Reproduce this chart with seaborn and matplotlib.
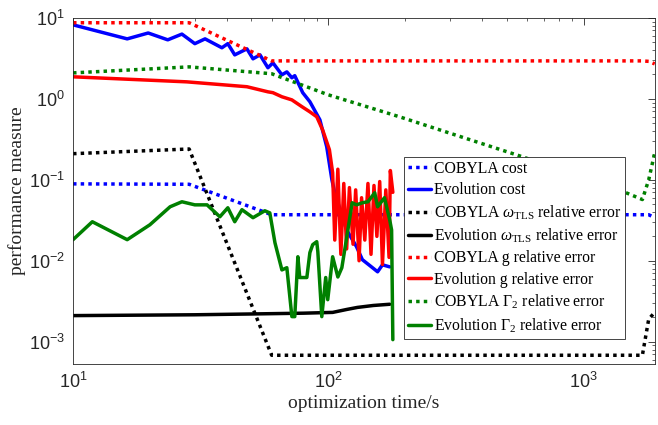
import numpy as np
import matplotlib
matplotlib.use('Agg')
import matplotlib.pyplot as plt
import seaborn as sns
from matplotlib.ticker import LogLocator, NullFormatter


# COBYLA samples (sparse, shared time axis)
t_cobyla = [10, 28.5, 60, 100, 190, 577, 1470, 1700, 1800, 1900]
cobyla_cost = [0.089, 0.088, 0.037, 0.037, 0.037, 0.037, 0.037, 0.037, 0.037, 0.034]
cobyla_w = [0.21, 0.24, 6.8e-4, 6.8e-4, 6.8e-4, 6.8e-4, 6.8e-4, 6.8e-4, 1.9e-3, 2.3e-3]
cobyla_g = [8.7, 8.7, 2.94, 2.94, 2.94, 2.94, 2.94, 2.94, 2.9, 2.7]
cobyla_gam = [2.09, 2.48, 2.04, 1.12, 0.6, 0.192, 0.069, 0.057, 0.1, 0.215]

# Evolution cost
t_evo_cost = [10, 16.3, 19.7, 23.5, 26.7, 30.0, 32.9, 38.3, 40.4, 43.0, 48.0, 50.7,
              54.0, 58.0, 60.7, 65.8, 68.8, 72.0, 73.9, 79.4, 84.7, 92.7, 98.6,
              103.3, 106, 118, 129, 136, 149, 156, 163, 174]
evo_cost = [8.2, 5.5, 6.5, 5.35, 6.3, 4.8, 5.5, 4.27, 4.8, 3.49, 4.14, 3.12,
            3.49, 2.42, 2.78, 1.98, 2.15, 1.82, 1.93, 1.19, 0.92, 0.55, 0.255,
            0.1, 0.069, 0.024, 0.0149, 0.0103, 0.0082, 0.0073, 0.0089, 0.0084]

# Evolution omega_TLS
t_evo_w = [10, 30, 50, 80, 104, 118, 130, 150, 174]
evo_w = [2.1e-3, 2.15e-3, 2.2e-3, 2.25e-3, 2.3e-3, 2.5e-3, 2.65e-3, 2.8e-3, 2.9e-3]

# Evolution g
t_evo_g = [10, 27.9, 48.0, 58, 60.7, 65.8, 72, 78.8, 84.7, 90.1, 95.1, 101, 104,
           106, 109, 112, 115, 118, 121, 125, 128, 132, 135, 139, 143, 147, 151,
           155, 159, 163, 168, 173, 175, 179]
evo_g = [1.87, 1.62, 1.41, 1.22, 1.19, 1.06, 0.97, 0.80, 0.69, 0.60, 0.41, 0.235, 0.122,
         0.018, 0.135, 0.012, 0.09, 0.014, 0.08, 0.016, 0.075, 0.01, 0.06, 0.018, 0.09,
         0.012, 0.085, 0.02, 0.095, 0.009, 0.075, 0.011, 0.13, 0.07]

# Evolution Gamma_2
t_evo_gam = [10, 11.9, 16.3, 20.0, 24.0, 26.7, 30.0, 33.5, 37.6, 40.4, 43.0, 45.9,
             50.7, 56.4, 59.0, 61.8, 65.8, 68.8, 72.0, 73.9, 76.0, 77.3, 82.4, 84.7,
             86.9, 90.1, 91, 94.3, 97.7, 99.5, 104, 109, 113, 116, 124, 129, 136,
             143, 152, 156, 166, 174, 177, 179]
evo_gam = [0.0182, 0.0303, 0.0182, 0.0278, 0.0464, 0.0535, 0.049, 0.049, 0.0349, 0.0451,
           0.0303, 0.0427, 0.034, 0.0414, 0.039, 0.0167, 0.0077, 0.0082, 0.00204, 0.00204,
           0.0112, 0.0062, 0.0062, 0.0126, 0.0158, 0.0172, 0.0129, 0.00204, 0.0062, 0.0033,
           0.0112, 0.0063, 0.0082, 0.0137, 0.052, 0.049, 0.052, 0.0535, 0.069, 0.0464,
           0.06, 0.032, 0.024, 1.06e-3]

labels = ['COBYLA cost', 'Evolution cost',
          r'COBYLA $\omega_{\mathrm{TLS}}$ relative error',
          r'Evolution $\omega_{\mathrm{TLS}}$ relative error',
          'COBYLA g relative error', 'Evolution g relative error',
          r'COBYLA $\Gamma_2$ relative error', r'Evolution $\Gamma_2$ relative error']


sns.set_theme(style='white')
plt.rcParams['font.family'] = ['Liberation Serif', 'DejaVu Serif']
plt.rcParams['mathtext.fontset'] = 'custom'
plt.rcParams['mathtext.rm'] = 'Liberation Serif'
plt.rcParams['mathtext.it'] = 'Liberation Serif:italic'
plt.rcParams['axes.edgecolor'] = '#262626'
plt.rcParams['axes.linewidth'] = 0.6

fig = plt.figure(figsize=(6.58, 4.25), dpi=100)
ax = fig.add_axes([0.111, 0.1435, 0.884, 0.8145])

LW = 2.5
DOT = (0, (1, 1.2))
series = [
    (t_cobyla, cobyla_cost, '#0000ff', DOT),
    (t_evo_cost, evo_cost, '#0000ff', '-'),
    (t_cobyla, cobyla_w, 'black', DOT),
    (t_evo_w, evo_w, 'black', '-'),
    (t_cobyla, cobyla_g, '#ff0000', DOT),
    (t_evo_g, evo_g, '#ff0000', '-'),
    (t_cobyla, cobyla_gam, '#008000', DOT),
    (t_evo_gam, evo_gam, '#008000', '-'),
]
for (t, v, c, ls), lab in zip(series, labels):
    sns.lineplot(x=t, y=v, ax=ax, color=c, linewidth=LW, linestyle=ls,
                 label=lab, sort=False, estimator=None, dash_capstyle='butt')

ax.set_xscale('log')
ax.set_yscale('log')
ax.set_xlim(10, 1900)
ax.set_ylim(5.3e-4, 10)

ax.set_xticks([10, 100, 1000])
ax.set_xticklabels([r'$\mathregular{10^{1}}$', r'$\mathregular{10^{2}}$',
                    r'$\mathregular{10^{3}}$'])
ax.set_yticks([1e-3, 1e-2, 1e-1, 1, 10])
ax.set_yticklabels([r'$\mathregular{10^{-3}}$', r'$\mathregular{10^{-2}}$',
                    r'$\mathregular{10^{-1}}$', r'$\mathregular{10^{0}}$',
                    r'$\mathregular{10^{1}}$'])
for lab in ax.get_xticklabels() + ax.get_yticklabels():
    lab.set_fontfamily('Liberation Sans')
    lab.set_fontsize(13)
for axis in (ax.xaxis, ax.yaxis):
    axis.set_minor_locator(LogLocator(base=10, subs=np.arange(2, 10), numticks=20))
    axis.set_minor_formatter(NullFormatter())
ax.tick_params(which='both', direction='in', top=True, right=True,
               color='#262626', labelcolor='#262626')
ax.tick_params(which='major', length=5, width=0.6, pad=6)
ax.tick_params(which='minor', length=2.5, width=0.5)
for s in ax.spines.values():
    s.set_visible(True)

ax.set_xlabel('optimization time/s', fontsize=14, color='#262626', labelpad=2)
ax.set_ylabel('performance measure', fontsize=14, color='#262626', labelpad=2)

leg = ax.legend(loc='upper left', bbox_to_anchor=(0.569, 0.598), borderaxespad=0,
                fontsize=11.3, handlelength=1.5, handletextpad=0.15,
                labelspacing=0.33, borderpad=0.25, fancybox=False, framealpha=1)
leg.get_frame().set_edgecolor('#262626')
leg.get_frame().set_linewidth(0.6)
for txt in leg.get_texts():
    txt.set_color('black')

plt.savefig('out.png', dpi=100)
